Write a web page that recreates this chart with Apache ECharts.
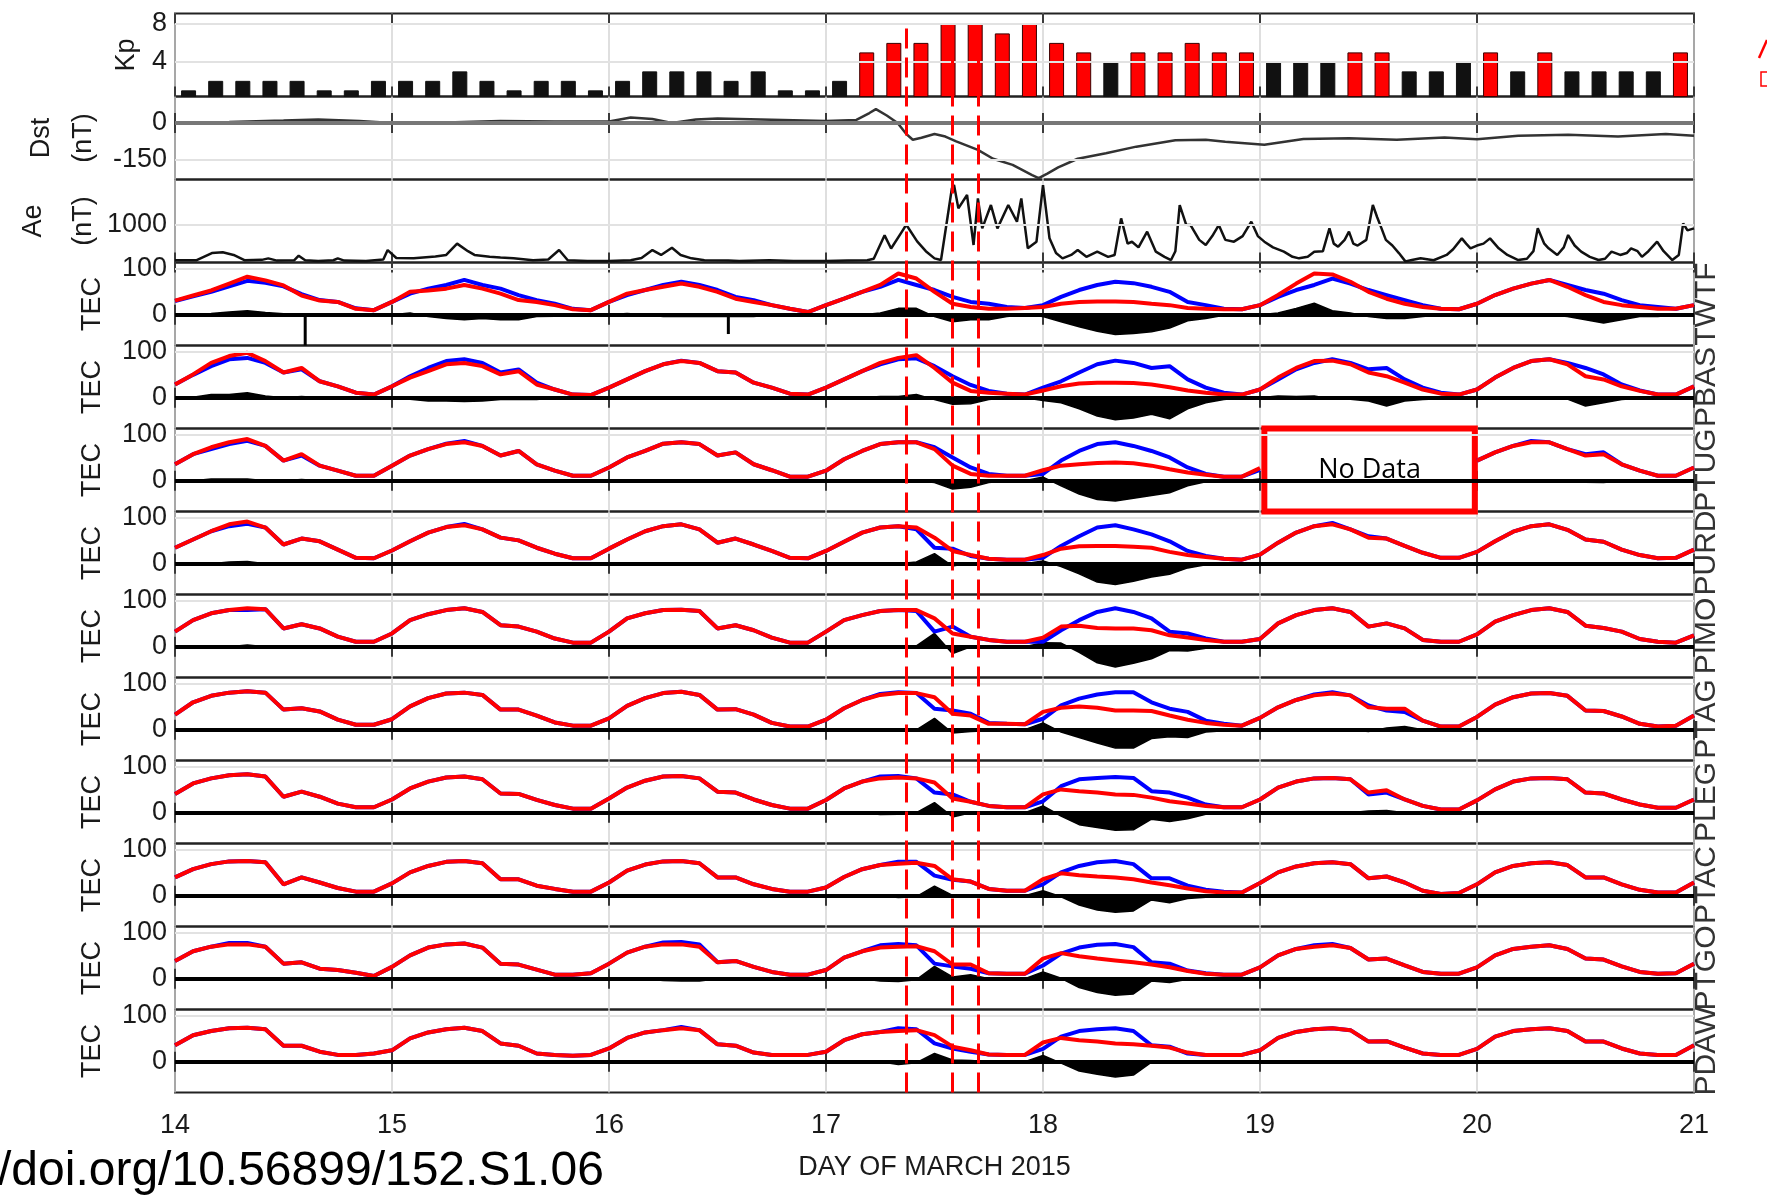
<!DOCTYPE html>
<html>
<head>
<meta charset="utf-8">
<script src="https://cdn.jsdelivr.net/npm/echarts@6/dist/echarts.min.js"></script>
<style>
  html, body { margin: 0; padding: 0; background: #ffffff; }
  #chart { width: 1767px; height: 1203px; }
</style>
</head>
<body>
<div id="chart"></div>
<script>
// ---------------------------------------------------------------
// Geomagnetic indices and GNSS TEC, 14-21 March 2015
// ---------------------------------------------------------------

const dayTicks = [14, 15, 16, 17, 18, 19, 20, 21];

// Kp, 3-hourly (8 values per day, 14 Mar 00 UT onward)
const kpValues = [
  1, 2, 2, 2, 2, 1, 1, 2,
  2, 2, 3, 2, 1, 2, 2, 1,
  2, 3, 3, 3, 2, 3, 1, 1,
  2, 5, 6, 6, 8, 8, 7, 8,
  6, 5, 4, 5, 5, 6, 5, 5,
  4, 4, 4, 5, 5, 3, 3, 4,
  5, 3, 5, 3, 3, 3, 3, 5
];

// Dst (nT): [day, value]
const dstValues = [
  [14.0, 2], [14.25, 4], [14.5, 10], [14.66, 14], [14.85, 8], [15.0, 0], [15.25, 2],
  [15.5, 8], [15.75, 6], [16.0, 6], [16.1, 22], [16.2, 16], [16.29, 0], [16.4, 14],
  [16.5, 18], [16.7, 14], [16.9, 10], [17.0, 8], [17.14, 12], [17.2, 40], [17.23, 56],
  [17.28, 30], [17.33, 0], [17.37, -45], [17.4, -68], [17.44, -60], [17.5, -45],
  [17.55, -55], [17.6, -75], [17.7, -109], [17.77, -145], [17.86, -170], [17.95, -211],
  [17.98, -223], [18.02, -205], [18.07, -180], [18.16, -145], [18.29, -123], [18.43, -96],
  [18.61, -70], [18.75, -68], [18.84, -76], [19.02, -88], [19.2, -65], [19.41, -62],
  [19.63, -68], [19.85, -59], [20.0, -66], [20.19, -52], [20.42, -48], [20.65, -55],
  [20.87, -45], [21.0, -52]
];

// AE (nT): [day, value]
const aeValues = [
  [14.0, 60], [14.1, 60], [14.17, 250], [14.22, 270], [14.27, 200], [14.32, 60], [14.4, 70],
  [14.43, 110], [14.47, 50], [14.55, 60], [14.57, 180], [14.6, 60], [14.66, 40], [14.73, 60],
  [14.75, 110], [14.78, 50], [14.88, 40], [14.96, 80], [14.98, 330], [15.02, 120], [15.1, 110],
  [15.2, 160], [15.25, 200], [15.3, 500], [15.35, 300], [15.38, 200], [15.45, 150], [15.5, 130],
  [15.56, 110], [15.65, 60], [15.72, 80], [15.77, 330], [15.81, 60], [15.9, 40], [16.0, 40],
  [16.1, 60], [16.15, 120], [16.2, 330], [16.24, 200], [16.29, 390], [16.33, 200], [16.38, 110],
  [16.44, 60], [16.55, 50], [16.6, 40], [16.74, 60], [16.85, 40], [17.0, 40], [17.1, 50],
  [17.19, 60], [17.22, 100], [17.27, 720], [17.3, 370], [17.35, 820], [17.37, 1000],
  [17.42, 560], [17.46, 300], [17.5, 110], [17.53, 66], [17.56, 1200], [17.58, 1965],
  [17.59, 2053], [17.61, 1435], [17.65, 1789], [17.68, 464], [17.7, 1700], [17.72, 905],
  [17.76, 1523], [17.79, 905], [17.84, 1523], [17.88, 1082], [17.9, 1700], [17.93, 375],
  [17.97, 552], [18.0, 2053], [18.03, 640], [18.06, 250], [18.09, 110], [18.13, 200],
  [18.16, 330], [18.2, 150], [18.25, 287], [18.3, 150], [18.33, 200], [18.36, 1170],
  [18.39, 500], [18.41, 550], [18.44, 400], [18.48, 817], [18.52, 287], [18.56, 150],
  [18.59, 66], [18.61, 300], [18.63, 1523], [18.66, 1000], [18.68, 993], [18.72, 600],
  [18.75, 464], [18.78, 700], [18.81, 993], [18.84, 600], [18.88, 552], [18.92, 700],
  [18.96, 1082], [18.99, 700], [19.02, 552], [19.06, 400], [19.11, 287], [19.15, 150],
  [19.18, 110], [19.22, 150], [19.25, 287], [19.29, 300], [19.32, 905], [19.34, 500],
  [19.36, 420], [19.39, 600], [19.41, 817], [19.43, 500], [19.45, 450], [19.49, 600],
  [19.52, 1523], [19.54, 1200], [19.56, 905], [19.58, 600], [19.61, 450], [19.64, 250],
  [19.67, 30], [19.7, 66], [19.74, 110], [19.8, 60], [19.86, 200], [19.89, 350], [19.93, 640],
  [19.95, 500], [19.97, 375], [20.0, 450], [20.03, 500], [20.06, 640], [20.1, 375],
  [20.14, 200], [20.19, 66], [20.23, 100], [20.26, 300], [20.28, 905], [20.31, 500],
  [20.33, 375], [20.37, 200], [20.4, 400], [20.42, 728], [20.45, 450], [20.48, 287],
  [20.52, 150], [20.56, 66], [20.59, 100], [20.62, 287], [20.66, 200], [20.69, 250],
  [20.71, 375], [20.74, 300], [20.76, 150], [20.79, 300], [20.83, 552], [20.86, 300],
  [20.9, 66], [20.93, 200], [20.95, 1038], [20.97, 850], [21.0, 905]
];

// Vertical event markers (day of March)
const eventTimes = [17.37, 17.58, 17.70];

// TEC (TECU), 2-hourly from 14 Mar 00 UT to 21 Mar 00 UT (85 samples)
const TWTF_red = [
  31,42,53,68,83,75,64,42,31,28,13,10,
  28,50,53,57,65,57,46,32,28,21,12,10,
  28,46,54,61,68,61,50,35,28,21,13,6,
  21,35,50,65,90,79,50,24,17,13,13,15,
  17,24,28,29,29,28,24,21,15,13,12,12,
  21,43,68,90,88,72,50,35,24,17,13,12,
  24,43,57,68,76,61,43,28,21,17,13,13,
  21];
const TWTF_blue = [
  30,40,50,62,74,70,62,45,32,28,14,10,
  28,46,57,65,76,65,57,43,32,24,13,10,
  28,43,54,65,72,65,54,39,32,21,13,6,
  21,35,50,61,76,65,54,39,28,24,17,15,
  21,39,54,65,72,69,61,50,28,21,13,12,
  21,39,54,65,79,68,54,43,32,21,13,12,
  24,43,57,68,76,65,54,46,32,21,17,13,
  21];
const TWTF_spikes = [[14.60, -67], [16.55, -42]];

const PBAS_red = [
  29,51,76,91,98,80,55,65,36,25,11,7,
  25,44,58,73,76,69,51,58,29,18,7,6,
  22,40,58,73,80,76,58,55,33,22,9,7,
  22,40,58,76,87,93,65,33,15,11,9,7,
  16,25,31,33,33,32,29,23,16,11,7,7,
  18,44,65,80,81,73,55,47,33,18,9,7,
  18,44,65,80,84,73,47,40,25,15,7,7,
  25];
const PBAS_blue = [
  29,50,69,84,87,76,55,62,36,25,11,7,
  25,47,65,80,84,76,55,62,33,18,7,6,
  22,40,58,73,81,76,58,55,33,22,9,7,
  22,40,58,73,84,86,69,47,28,15,9,7,
  22,36,55,73,81,76,65,69,40,22,11,7,
  18,40,62,76,84,76,62,65,40,22,11,7,
  18,44,65,80,84,76,65,51,29,16,7,7,
  25];

const PTUG_red = [
  36,58,73,84,91,76,44,58,33,22,11,11,
  33,55,69,80,84,76,55,65,36,22,11,11,
  29,51,65,81,84,80,55,62,36,23,9,9,
  22,47,65,80,84,84,69,33,15,11,11,11,
  23,33,36,39,40,38,33,25,18,13,9,9,
  28,null,null,null,null,null,null,null,null,null,null,null,
  44,62,76,84,84,69,55,58,36,22,11,11,
  29];
const PTUG_blue = [
  36,58,69,80,87,76,44,55,33,22,11,11,
  33,55,69,81,87,76,55,65,36,22,11,11,
  29,51,65,81,84,80,55,62,36,23,9,9,
  22,47,65,80,84,84,73,51,29,15,11,11,
  15,44,65,80,84,76,65,51,29,15,9,9,
  24,null,null,null,null,null,null,null,null,null,null,null,
  44,62,76,87,84,69,58,62,36,22,11,11,
  29];

const PURD_red = [
  35,53,71,86,92,79,42,55,49,31,13,12,
  29,49,68,80,84,75,57,51,35,22,12,12,
  33,53,71,82,86,75,46,55,42,28,13,12,
  28,48,68,79,82,79,57,28,19,11,9,9,
  19,33,38,39,39,37,35,26,19,15,11,9,
  20,46,68,82,86,75,57,55,39,24,13,13,
  26,49,70,82,86,74,53,48,31,19,12,13,
  31];
const PURD_blue = [
  35,53,71,82,87,79,42,55,49,31,13,12,
  29,49,68,80,87,75,57,51,35,22,12,12,
  33,53,71,82,86,75,46,55,42,28,13,12,
  28,48,68,79,82,75,35,33,17,11,9,9,
  13,39,60,79,84,75,64,49,28,17,11,9,
  20,46,68,82,89,75,60,55,39,24,13,13,
  26,49,70,82,86,74,53,48,31,19,12,13,
  31];

const PIMO_red = [
  33,58,73,80,84,82,40,49,40,22,11,11,
  29,58,71,80,84,76,47,44,33,18,9,9,
  33,62,73,80,81,78,40,47,36,20,9,9,
  33,58,69,78,80,80,62,29,22,15,11,11,
  20,44,46,41,40,40,36,25,20,15,11,11,
  17,51,69,80,84,76,44,51,40,15,11,11,
  27,55,69,80,84,76,46,41,33,17,11,9,
  25];
const PIMO_blue = [
  33,58,73,80,80,82,40,49,40,22,11,11,
  29,58,71,80,84,76,47,44,33,18,9,9,
  33,62,73,80,81,78,40,47,36,20,9,9,
  33,58,69,78,80,78,33,44,22,15,11,11,
  11,36,58,76,84,76,62,33,29,18,11,11,
  17,51,69,80,84,76,44,51,40,15,11,11,
  27,55,69,80,84,76,46,41,33,17,11,9,
  25];

const PTAG_red = [
  33,60,74,81,84,81,44,47,40,22,11,11,
  23,51,69,79,81,76,44,44,31,16,9,9,
  25,52,69,80,83,76,44,45,33,15,7,7,
  22,47,65,76,80,80,71,35,31,13,13,12,
  39,48,51,48,42,42,41,31,22,15,11,9,
  26,49,65,75,79,75,49,46,46,20,7,7,
  28,55,71,79,80,74,42,41,29,13,7,9,
  31];
const PTAG_blue = [
  33,60,74,81,84,81,44,47,40,22,11,11,
  23,51,69,79,81,76,44,44,31,16,9,9,
  25,52,69,80,83,76,44,45,33,15,7,7,
  22,47,65,78,82,80,46,42,35,15,13,12,
  24,53,68,77,82,82,60,46,39,20,13,9,
  26,49,65,77,82,75,53,42,39,20,7,7,
  28,55,71,79,80,74,42,41,29,13,7,9,
  31];

const PLEG_red = [
  41,64,75,82,84,79,35,46,35,20,12,12,
  29,53,68,77,79,73,42,41,28,17,9,9,
  31,55,70,79,80,75,46,44,29,17,9,9,
  28,53,68,75,77,75,66,31,24,15,12,12,
  40,51,47,44,40,39,33,25,20,15,12,12,
  29,55,68,75,76,73,44,49,29,15,7,7,
  27,51,68,75,76,73,44,42,29,18,11,11,
  29];
const PLEG_blue = [
  41,64,75,82,84,79,35,46,35,20,12,12,
  29,53,68,77,79,73,42,41,28,17,9,9,
  31,55,70,79,80,75,46,44,29,17,9,9,
  28,53,68,79,80,75,44,40,24,15,12,12,
  25,58,73,76,78,76,47,44,33,18,12,12,
  29,55,68,75,76,73,40,44,29,15,7,7,
  27,51,68,75,76,73,44,42,29,18,11,11,
  29];

const PTAC_red = [
  40,58,69,75,76,73,25,40,29,17,9,9,
  27,51,65,74,76,71,36,36,22,15,9,9,
  29,55,68,75,76,71,40,40,25,15,9,9,
  18,41,58,67,70,72,65,36,31,15,11,11,
  36,49,45,42,40,36,29,23,16,10,7,7,
  28,51,64,71,73,69,38,42,29,11,4,6,
  25,51,65,71,73,67,40,40,25,13,7,7,
  29];
const PTAC_blue = [
  40,58,69,75,76,73,25,40,29,17,9,9,
  27,51,65,74,76,71,36,36,22,15,9,9,
  29,55,68,75,76,71,40,40,25,15,9,9,
  18,41,58,67,74,74,44,35,31,15,11,11,
  25,51,65,73,76,69,38,38,22,13,9,7,
  28,51,64,71,73,69,38,42,29,11,4,6,
  25,51,65,71,73,67,40,40,25,13,7,7,
  29];

const PTGO_red = [
  39,60,70,75,75,70,33,36,22,19,13,6,
  26,51,68,75,77,68,33,31,20,9,9,12,
  33,57,70,75,75,70,36,39,26,15,9,9,
  19,46,60,68,70,71,60,31,31,12,11,11,
  44,56,49,44,40,36,31,25,17,11,9,9,
  25,51,65,70,73,67,42,44,29,15,11,11,
  25,51,65,70,73,65,44,42,27,15,11,12,
  33];
const PTGO_blue = [
  39,60,70,78,78,70,33,36,22,19,13,6,
  26,51,68,75,77,68,33,31,20,9,9,12,
  33,57,70,79,80,75,36,39,26,15,9,9,
  19,46,60,73,76,73,33,27,22,12,11,11,
  29,55,68,74,76,69,36,33,18,12,9,9,
  25,51,65,73,76,67,42,44,29,15,11,11,
  25,51,65,70,73,65,44,42,27,15,11,12,
  33];

const PDAW_red = [
  36,58,67,73,74,71,35,35,22,15,15,18,
  25,51,64,71,74,67,40,35,18,15,13,15,
  29,52,64,69,73,69,38,35,20,15,15,15,
  22,47,60,65,67,69,58,33,25,16,15,15,
  42,52,47,44,40,38,35,31,20,15,15,15,
  25,52,65,71,73,69,44,45,31,18,15,15,
  28,55,67,71,73,67,44,44,29,18,15,15,
  36];
const PDAW_blue = [
  36,58,67,73,74,71,35,35,22,15,15,18,
  25,51,64,71,74,67,40,35,18,15,13,15,
  29,52,64,69,76,69,38,35,20,15,15,15,
  22,47,60,65,73,71,40,29,22,16,15,15,
  28,55,67,71,73,67,36,33,18,15,15,15,
  25,52,65,71,73,69,44,45,31,18,15,15,
  28,55,67,71,73,67,44,44,29,18,15,15,
  36];

// Gap in the PTUG record
const ptugGap = [19.02, 19.99];

// Stations from top panel to bottom panel
const stations = [
  { name: 'TWTF', red: TWTF_red, blue: TWTF_blue },
  { name: 'PBAS', red: PBAS_red, blue: PBAS_blue },
  { name: 'PTUG', red: PTUG_red, blue: PTUG_blue },
  { name: 'PURD', red: PURD_red, blue: PURD_blue },
  { name: 'PIMO', red: PIMO_red, blue: PIMO_blue },
  { name: 'PTAG', red: PTAG_red, blue: PTAG_blue },
  { name: 'PLEG', red: PLEG_red, blue: PLEG_blue },
  { name: 'PTAC', red: PTAC_red, blue: PTAC_blue },
  { name: 'PTGO', red: PTGO_red, blue: PTGO_blue },
  { name: 'PDAW', red: PDAW_red, blue: PDAW_blue }
];

// ---------------------------------------------------------------
// Layout
// ---------------------------------------------------------------
const LEFT = 175, WIDTH = 1519, TOP = 13.5, PANEL_H = 83;
const N_PANELS = 13;
const FONT = '"Liberation Sans", Arial, sans-serif';
const RED = '#ff0000', BLUE = '#0000ff', INK = '#1a1a1a';

const tecTimes = stations[0].red.map((_, k) => 14 + k / 12);
const kpTimes = kpValues.map((_, i) => 14 + (i + 0.5) / 8);

const grids = [];
const xAxes = [];
const yAxes = [];
const series = [];

function panelTop(i) { return TOP + PANEL_H * i; }

for (let i = 0; i < N_PANELS; i++) {
  grids.push({
    left: LEFT, width: WIDTH, top: panelTop(i), height: PANEL_H,
    show: true, borderColor: '#222', borderWidth: 2, backgroundColor: 'transparent'
  });
  const isBottom = i === N_PANELS - 1;
  const tick = { show: true, inside: true, length: 10, lineStyle: { color: '#3a3a3a', width: 2 } };
  xAxes.push({
    gridIndex: i, type: 'value', min: 14, max: 21, interval: 1, position: 'bottom',
    axisLine: { show: false }, axisTick: tick,
    splitLine: { show: true, lineStyle: { color: '#d4d4d4', width: 1.5 } },
    axisLabel: isBottom
      ? { show: true, fontSize: 27, fontFamily: FONT, color: INK, margin: 20, formatter: v => String(v) }
      : { show: false },
    name: isBottom ? 'DAY OF MARCH 2015' : '',
    nameLocation: 'middle', nameGap: 62,
    nameTextStyle: { fontSize: 27, fontFamily: FONT, color: INK }
  });
  xAxes.push({
    gridIndex: i, type: 'value', min: 14, max: 21, interval: 1, position: 'top',
    axisLine: { show: false }, axisTick: tick, axisLabel: { show: false }, splitLine: { show: false }
  });
}

function addYAxes(i, min, max, marks) {
  const tick = { show: true, inside: true, length: 8, customValues: marks, lineStyle: { color: '#555', width: 2 } };
  yAxes.push({
    gridIndex: i, type: 'value', min, max, position: 'left',
    axisLine: { show: false }, axisTick: tick, splitLine: { show: false },
    axisLabel: {
      customValues: marks, fontSize: 27, fontFamily: FONT, color: INK, margin: 8,
      formatter: v => String(v)
    }
  });
  yAxes.push({
    gridIndex: i, type: 'value', min, max, position: 'right',
    axisLine: { show: false }, axisTick: tick, splitLine: { show: false },
    axisLabel: { show: false }
  });
}

function faintLevels(values, extra) {
  return {
    silent: true, symbol: ['none', 'none'], animation: false,
    label: { show: false },
    data: values.map(v => ({ yAxis: v, lineStyle: { color: '#e2e2e2', width: 2, type: 'solid' } }))
      .concat(extra || [])
  };
}

// Kp panel
addYAxes(0, 0.35, 9.1, [4, 8]);
series.push({
  type: 'bar', xAxisIndex: 0, yAxisIndex: 0, barWidth: 15, clip: true, z: 3,
  data: kpValues.map((v, i) => ({
    value: [kpTimes[i], v],
    itemStyle: v >= 5
      ? { color: RED, borderColor: '#3a0000', borderWidth: 1 }
      : { color: '#111', borderColor: '#111', borderWidth: 1 }
  })),
  markLine: faintLevels([4, 8])
});

// Dst panel
addYAxes(1, -229, 107, [-150, 0]);
series.push({
  type: 'line', xAxisIndex: 2, yAxisIndex: 2, showSymbol: false, symbol: 'none', z: 3,
  lineStyle: { color: '#333', width: 2.5 }, itemStyle: { color: '#333' },
  data: dstValues,
  markLine: faintLevels([-150], [{ yAxis: 0, lineStyle: { color: '#777', width: 4, type: 'solid' } }])
});

// AE panel
addYAxes(2, 0, 2200, [1000]);
series.push({
  type: 'line', xAxisIndex: 4, yAxisIndex: 4, showSymbol: false, symbol: 'none', z: 3,
  lineStyle: { color: '#111', width: 2.5 }, itemStyle: { color: '#111' },
  data: aeValues,
  markLine: faintLevels([1000])
});

// TEC panels
stations.forEach((st, s) => {
  const g = 3 + s;
  addYAxes(g, -67, 114, [0, 100]);
  const xi = 2 * g, yi = 2 * g;
  const diff = st.red.map((r, k) =>
    (r == null || st.blue[k] == null) ? [tecTimes[k], null] : [tecTimes[k], r - st.blue[k]]);
  series.push({
    name: st.name + ' difference', type: 'line', xAxisIndex: xi, yAxisIndex: yi,
    showSymbol: false, symbol: 'none', z: 2,
    lineStyle: { color: '#000', width: 1.5 }, itemStyle: { color: '#000' },
    areaStyle: { color: '#000', opacity: 1 },
    data: diff,
    markLine: faintLevels([100], [{ yAxis: 0, lineStyle: { color: '#000', width: 4, type: 'solid' } }])
  });
  series.push({
    name: st.name + ' blue', type: 'line', xAxisIndex: xi, yAxisIndex: yi,
    showSymbol: false, symbol: 'none', z: 3,
    lineStyle: { color: BLUE, width: 4 }, itemStyle: { color: BLUE },
    data: st.blue.map((v, k) => [tecTimes[k], v])
  });
  series.push({
    name: st.name + ' red', type: 'line', xAxisIndex: xi, yAxisIndex: yi,
    showSymbol: false, symbol: 'none', z: 4,
    lineStyle: { color: RED, width: 4 }, itemStyle: { color: RED },
    data: st.red.map((v, k) => [tecTimes[k], v])
  });
  if (st.name === 'TWTF') {
    series.push({
      type: 'bar', xAxisIndex: xi, yAxisIndex: yi, barWidth: 3, z: 3,
      itemStyle: { color: '#000' }, data: TWTF_spikes
    });
  }
  if (st.name === 'PTUG') {
    series.push({
      type: 'line', xAxisIndex: xi, yAxisIndex: yi, data: [], z: 8,
      markArea: {
        silent: true,
        itemStyle: { color: '#ffffff', borderColor: RED, borderWidth: 6 },
        label: {
          show: true, position: 'inside', formatter: 'No Data',
          fontSize: 27, fontFamily: '"Open Sans", sans-serif', color: '#000'
        },
        data: [[{ xAxis: ptugGap[0], yAxis: 114 }, { xAxis: ptugGap[1], yAxis: -67 }]]
      }
    });
  }
});

// Overlay grid for the event markers crossing all panels
const overlayTop = 23;
grids.push({ left: LEFT, width: WIDTH, top: overlayTop, height: TOP + PANEL_H * N_PANELS - overlayTop, show: false });
xAxes.push({ gridIndex: N_PANELS, type: 'value', min: 14, max: 21, show: false });
yAxes.push({ gridIndex: N_PANELS, type: 'value', min: 0, max: 1, show: false });
series.push({
  type: 'line', xAxisIndex: xAxes.length - 1, yAxisIndex: yAxes.length - 1, data: [], z: 10,
  markLine: {
    silent: true, symbol: ['none', 'none'], animation: false, label: { show: false },
    lineStyle: { color: RED, width: 3, type: [20, 9] },
    data: eventTimes.map(t => ({ xAxis: t }))
  }
});

// ---------------------------------------------------------------
// Text labels
// ---------------------------------------------------------------
function vText(text, x, y, size, fill) {
  return {
    type: 'text', x, y, rotation: Math.PI / 2, silent: true, z: 20,
    style: {
      text, fill: fill || INK, font: size + 'px ' + FONT,
      align: 'center', verticalAlign: 'middle', textAlign: 'center', textVerticalAlign: 'middle'
    }
  };
}
const panelMid = i => panelTop(i) + PANEL_H / 2;
const graphics = [
  vText('Kp', 127, panelMid(0), 27),
  vText('Dst', 42, panelMid(1), 27),
  vText('(nT)', 84, panelMid(1), 27),
  vText('Ae', 34, panelMid(2), 27),
  vText('(nT)', 84, panelMid(2), 27)
];
stations.forEach((st, s) => {
  graphics.push(vText('TEC', 93, panelMid(3 + s), 27));
  graphics.push(vText(st.name, 1707, panelMid(3 + s), 30, '#333'));
});
graphics.push({
  type: 'text', x: -2, y: 1196, silent: true, z: 20,
  style: {
    text: '/doi.org/10.56899/152.S1.06', fill: '#000', font: '48px ' + FONT,
    align: 'left', verticalAlign: 'bottom', textAlign: 'left', textVerticalAlign: 'bottom'
  }
});
// Clipped red annotation fragments at the right edge
graphics.push({ type: 'line', silent: true, shape: { x1: 1767, y1: 40, x2: 1759, y2: 58 }, style: { stroke: RED, lineWidth: 2.5 } });
graphics.push({ type: 'polyline', silent: true, shape: { points: [[1767, 72], [1761, 72], [1761, 86], [1767, 86]] }, style: { stroke: RED, lineWidth: 1.5, fill: null } });

const chart = echarts.init(document.getElementById('chart'), null, { renderer: 'canvas', width: 1767, height: 1203 });
chart.setOption({
  animation: false,
  backgroundColor: '#ffffff',
  grid: grids,
  xAxis: xAxes,
  yAxis: yAxes,
  series,
  graphic: graphics
});
</script>
</body>
</html>
